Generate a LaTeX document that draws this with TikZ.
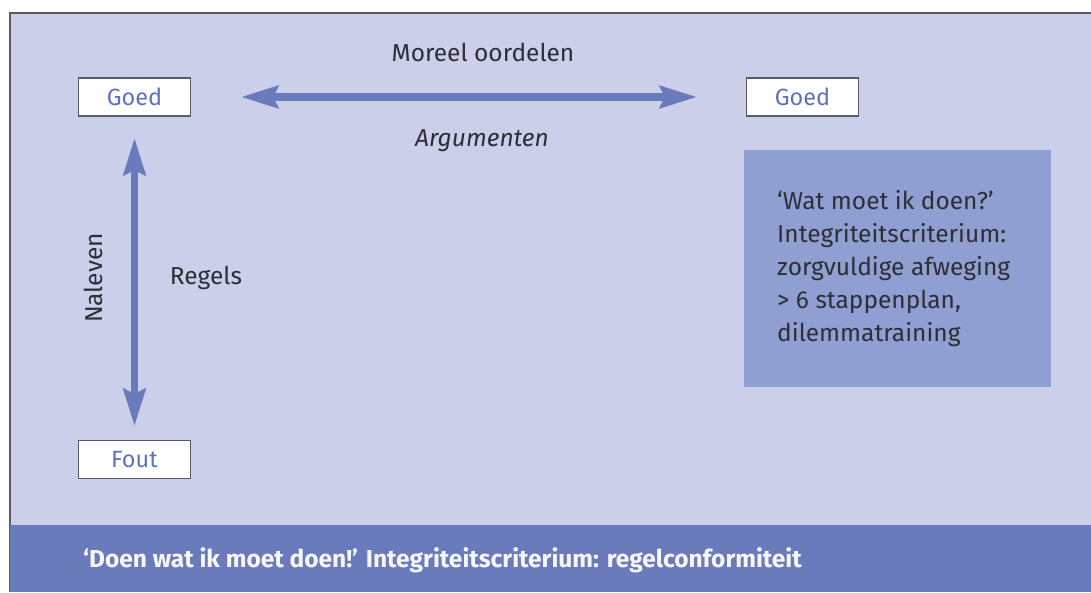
\documentclass[tikz,border=0pt]{standalone}
\usepackage{fontspec}
\setmainfont{Fira Sans}
\usetikzlibrary{arrows.meta}
\definecolor{pagebg}{HTML}{CBCFEA}
\definecolor{bandblue}{HTML}{6A7BBB}
\definecolor{boxblue}{HTML}{909FD2}
\definecolor{framegray}{HTML}{5A5A62}
\definecolor{inktext}{HTML}{2E2E38}
\definecolor{poletext}{HTML}{5F72BE}
\begin{document}
\begin{tikzpicture}[x=1pt,y=-1pt,
  pole/.style={draw=framegray,line width=1.4pt,fill=white,minimum width=112pt,minimum height=38pt,
    inner sep=0pt,text=poletext,font=\fontsize{23.5}{26}\selectfont},
  label/.style={text=inktext,font=\fontsize{24.5}{28}\selectfont,inner sep=0pt},
  bigarrow/.style={draw=bandblue,line width=7.5pt,
    {Stealth[length=37pt,width=22pt,inset=5pt]}-{Stealth[length=37pt,width=22pt,inset=5pt]}}]
  \useasboundingbox (0,0) rectangle (1091,592);
  % background panel and frame
  \fill[pagebg] (10,13) rectangle (1091,592);
  \draw[framegray,line width=2pt] (10,592) -- (10,13) -- (1091,13);
  % bottom band
  \fill[bandblue] (10,525) rectangle (1091,592);
  \node[anchor=west,text=white!94!bandblue,font=\fontsize{24.5}{28}\selectfont\bfseries,inner sep=0pt] (band) at (83,560)
    {`Doen wat ik moet doen!' Integriteitscriterium: regelconformiteit};
  % right info box
  \fill[boxblue] (744,150) rectangle (1051,387);
  \node[label,anchor=north west,align=left,font=\fontsize{24.5}{33}\selectfont] (info) at (777,190)
    {`Wat moet ik doen?'\\Integriteitscriterium:\\zorgvuldige afweging\\> 6 stappenplan,\\dilemmatraining};
  % poles
  \node[pole] (g1) at (134.5,97) {Goed};
  \node[pole] (g2) at (802.5,97) {Goed};
  \node[pole] (f) at (134.5,459.5) {Fout};
  % arrows
  \coordinate (hl) at (241,97);
  \coordinate (hr) at (697,97);
  \coordinate (vt) at (134.5,138);
  \coordinate (vb) at (134.5,426);
  \draw[bigarrow] (hl) -- (hr);
  \draw[bigarrow] (vt) -- (vb);
  % labels
  \node[label] (moreel) at (483,52) {Moreel oordelen};
  \node[label,font=\fontsize{24.5}{28}\selectfont\itshape] (arg) at (482,141) {Argumenten};
  \node[label,rotate=90] (nal) at (93,278) {Naleven};
  \node[label] (reg) at (206,278) {Regels};
\end{tikzpicture}
\end{document}
